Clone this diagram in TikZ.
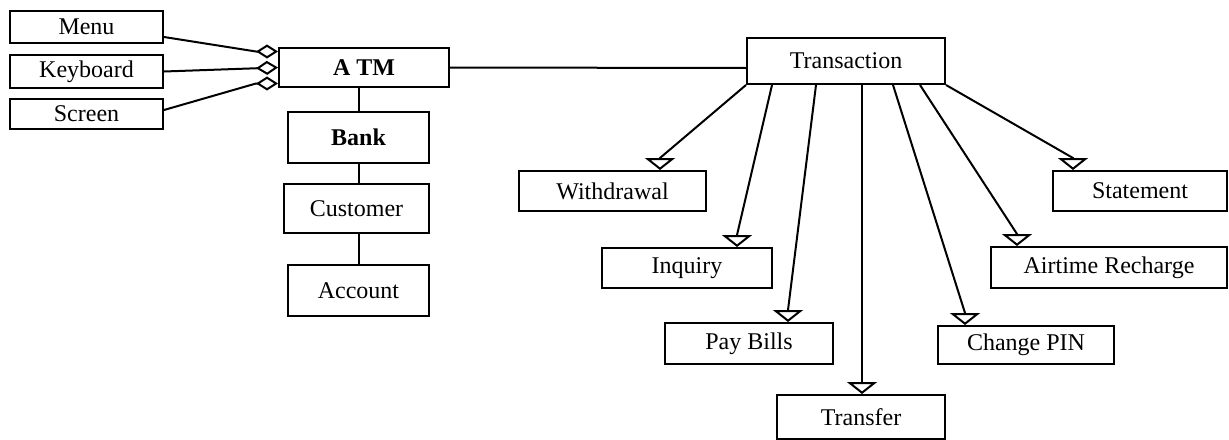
\documentclass[tikz,border=0pt]{standalone}
\usepackage{fontspec}
\setmainfont{Liberation Serif}
\usetikzlibrary{arrows.meta}

\tikzset{
  cls/.style={draw,line width=1pt,inner sep=0pt,font=\fontsize{12}{14}\selectfont},
  link/.style={line width=1pt},
  agg/.style={link,{Diamond[open,length=11pt,width=7pt,line width=1pt]}-},
  gen/.style={link,-{Triangle[open,length=6pt,width=15pt,line width=1pt]}}
}

\begin{document}
\begin{tikzpicture}[x=0.5pt,y=-0.5pt]
  \useasboundingbox (0,0) rectangle (1229,439);
  % parts of the ATM
  \node[cls,minimum width=76.5pt,minimum height=16pt] (menu) at (86.5,27) {Menu};
  \node[cls,minimum width=76.5pt,minimum height=16.5pt] (keyboard) at (86.5,71.5) {Keyboard};
  \node[cls,minimum width=76.5pt,minimum height=15pt] (screen) at (86.5,114) {Screen};
  \node[cls,minimum width=85pt,minimum height=19.5pt,font=\fontsize{12}{14}\selectfont\bfseries] (atm) at (364,67.5) {A TM};
  % chain below
  \node[cls,minimum width=70.5pt,minimum height=25.5pt,font=\fontsize{12}{14}\selectfont\bfseries] (bank) at (358.5,137.5) {Bank};
  \node[cls,minimum width=72.5pt,minimum height=24.5pt] (customer) at (356.5,208.5) {Customer};
  \node[cls,minimum width=70.5pt,minimum height=25.5pt] (account) at (358.5,290.5) {Account};
  % transactions
  \node[cls,minimum width=99pt,minimum height=23pt] (trans) at (846,61) {Transaction};
  \node[cls,minimum width=93.5pt,minimum height=20pt] (withdraw) at (612.5,191) {Withdrawal};
  \node[cls,minimum width=85pt,minimum height=20pt] (inquiry) at (687,268) {Inquiry};
  \node[cls,minimum width=84pt,minimum height=20.5pt] (paybills) at (749,343.5) {Pay Bills};
  \node[cls,minimum width=84pt,minimum height=22pt] (transfer) at (861,417) {Transfer};
  \node[cls,minimum width=88pt,minimum height=19pt] (pin) at (1026,345) {Change PIN};
  \node[cls,minimum width=118pt,minimum height=20.5pt] (airtime) at (1109,267.5) {Airtime Recharge};
  \node[cls,minimum width=87pt,minimum height=20pt] (statement) at (1140,191) {Statement};

  \draw[agg] ([yshift=8pt]atm.west) -- ([xshift=-11pt,yshift=8pt]atm.west) -- ([yshift=-5pt]menu.east);
  \draw[agg] (atm.west) -- (keyboard.east);
  \draw[agg] ([yshift=-8pt]atm.west) -- ([xshift=-11pt,yshift=-8pt]atm.west) -- ([yshift=2pt]screen.east);

  \draw[link] (bank.north) -- (bank.north |- atm.south);
  \draw[link] (bank.south) -- (bank.south |- customer.north);
  \draw[link] (account.north) -- (account.north |- customer.south);
  \draw[link] (atm.east) -- ([yshift=-3.5pt]trans.west);

  \draw[gen] (trans.south west) -- ([xshift=23.75pt,yshift=6pt]withdraw.north) -- ([xshift=23.75pt]withdraw.north);
  \draw[gen] ([xshift=-37pt]trans.south) -- ([xshift=25pt,yshift=6pt]inquiry.north) -- ([xshift=25pt]inquiry.north);
  \draw[gen] ([xshift=-15pt]trans.south) -- ([xshift=19.5pt,yshift=6pt]paybills.north) -- ([xshift=19.5pt]paybills.north);
  \draw[gen] ([xshift=8pt]trans.south) -- ([xshift=8pt]trans.south |- transfer.north);
  \draw[gen] ([xshift=23.5pt]trans.south) -- ([xshift=-30.5pt,yshift=6pt]pin.north) -- ([xshift=-30.5pt]pin.north);
  \draw[gen] ([xshift=37pt]trans.south) -- ([xshift=-46pt,yshift=6pt]airtime.north) -- ([xshift=-46pt]airtime.north);
  \draw[gen] (trans.south east) -- ([xshift=-33.5pt,yshift=6pt]statement.north) -- ([xshift=-33.5pt]statement.north);
\end{tikzpicture}
\end{document}
